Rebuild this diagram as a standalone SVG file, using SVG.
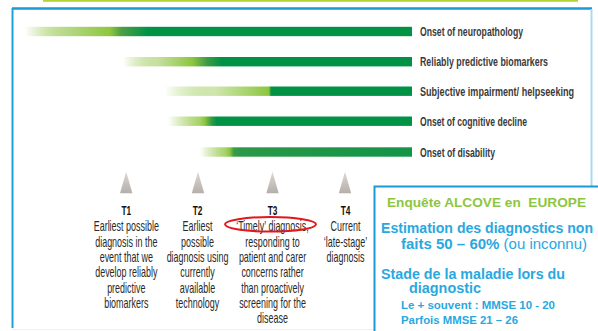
<svg xmlns="http://www.w3.org/2000/svg" width="598" height="331" viewBox="0 0 598 331">
<style>
.lbl{font-family:"Liberation Sans",Arial,sans-serif;font-weight:bold;font-size:13px;fill:#3a3a3a}
.col{font-family:"Liberation Sans",Arial,sans-serif;font-size:14px;fill:#2a2a2a;text-anchor:middle}
.th{font-weight:bold;fill:#111;font-size:13px}
.bx{font-family:"Liberation Sans",Arial,sans-serif;font-weight:bold;fill:#29a8df;white-space:pre}
.tri{fill:url(#gTri)}
</style>
<defs>
<linearGradient id="gTri" x1="0" y1="0" x2="0" y2="1">
<stop offset="0" stop-color="#dcd8d4"/><stop offset="1" stop-color="#b5afab"/>
</linearGradient>
<linearGradient id="g1" gradientUnits="userSpaceOnUse" x1="25" y1="0" x2="412" y2="0">
<stop offset="0" stop-color="#8dc63f" stop-opacity="0"/>
<stop offset="0.1" stop-color="#b9d98a"/>
<stop offset="0.22" stop-color="#8dc63f"/>
<stop offset="0.25" stop-color="#4a9e45"/>
<stop offset="0.32" stop-color="#009245"/>
<stop offset="1" stop-color="#009245"/>
</linearGradient>
<linearGradient id="g2" gradientUnits="userSpaceOnUse" x1="123" y1="0" x2="412" y2="0">
<stop offset="0" stop-color="#8dc63f" stop-opacity="0"/>
<stop offset="0.12" stop-color="#c6e0a0"/>
<stop offset="0.24" stop-color="#8dc63f"/>
<stop offset="0.29" stop-color="#3e9b45"/>
<stop offset="0.34" stop-color="#009245"/>
<stop offset="1" stop-color="#009245"/>
</linearGradient>
<linearGradient id="g3" gradientUnits="userSpaceOnUse" x1="165" y1="0" x2="412" y2="0">
<stop offset="0" stop-color="#8dc63f" stop-opacity="0"/>
<stop offset="0.2" stop-color="#d0e6b0"/>
<stop offset="0.42" stop-color="#8dc63f"/>
<stop offset="0.43" stop-color="#009245"/>
<stop offset="1" stop-color="#009245"/>
</linearGradient>
<linearGradient id="g4" gradientUnits="userSpaceOnUse" x1="168" y1="0" x2="412" y2="0">
<stop offset="0" stop-color="#8dc63f" stop-opacity="0"/>
<stop offset="0.13" stop-color="#a8d26a"/>
<stop offset="0.15" stop-color="#8dc63f"/>
<stop offset="0.18" stop-color="#2f9a45"/>
<stop offset="0.2" stop-color="#009245"/>
<stop offset="1" stop-color="#009245"/>
</linearGradient>
<linearGradient id="g5" gradientUnits="userSpaceOnUse" x1="200" y1="0" x2="412" y2="0">
<stop offset="0" stop-color="#8dc63f" stop-opacity="0"/>
<stop offset="0.12" stop-color="#a8d26a"/>
<stop offset="0.14" stop-color="#8dc63f"/>
<stop offset="0.16" stop-color="#3a9c47"/>
<stop offset="0.2" stop-color="#2a9847"/>
<stop offset="1" stop-color="#129447"/>
</linearGradient>
</defs>
<rect width="598" height="331" fill="#ffffff"/>
<g id="frame">
<line x1="43" y1="0.8" x2="578" y2="0.8" stroke="#b2d235" stroke-width="2"/>
<line x1="12" y1="8.5" x2="592" y2="8.5" stroke="#1a9ad6" stroke-width="2.5"/>
<line x1="12.5" y1="8" x2="12.5" y2="328" stroke="#1ca3da" stroke-width="2"/>
<line x1="591.5" y1="9" x2="591.5" y2="187" stroke="#a9dbed" stroke-width="2"/>
<line x1="12" y1="329.5" x2="374" y2="329.5" stroke="#e6f3f9" stroke-width="1"/>
</g>
<g id="bar-neuropathology">
<rect x="25" y="26.8" width="387" height="9.4" fill="url(#g1)"/>
<text class="lbl" x="420" y="36" textLength="103" lengthAdjust="spacingAndGlyphs">Onset of neuropathology</text>
</g>
<g id="bar-biomarkers">
<rect x="123" y="57" width="289" height="9.4" fill="url(#g2)"/>
<text class="lbl" x="420" y="66" textLength="128" lengthAdjust="spacingAndGlyphs">Reliably predictive biomarkers</text>
</g>
<g id="bar-subjective">
<rect x="165" y="86.5" width="247" height="9.4" fill="url(#g3)"/>
<text class="lbl" x="420" y="95.5" textLength="154" lengthAdjust="spacingAndGlyphs">Subjective impairment/ helpseeking</text>
</g>
<g id="bar-cognitive">
<rect x="168" y="116.5" width="244" height="9.4" fill="url(#g4)"/>
<text class="lbl" x="420" y="125.5" textLength="107" lengthAdjust="spacingAndGlyphs">Onset of cognitive decline</text>
</g>
<g id="bar-disability">
<rect x="200" y="147.3" width="212" height="9.4" fill="url(#g5)"/>
<text class="lbl" x="420" y="156.5" textLength="75" lengthAdjust="spacingAndGlyphs">Onset of disability</text>
</g>
<g id="connectors">
<polygon class="tri" points="126.2,171.7 120,193.3 132.4,193.3"/>
<polygon class="tri" points="198,171.7 191.8,193.3 204.2,193.3"/>
<polygon class="tri" points="272.5,171.7 266.3,193.3 278.7,193.3"/>
<polygon class="tri" points="345,171.7 338.8,193.3 351.2,193.3"/>
</g>
<g id="T1" transform="translate(126.3,0) scale(0.64,1)">
<text class="col th" x="0" y="215.5">T1</text>
<text class="col" x="0" y="231.5">Earliest possible</text>
<text class="col" x="0" y="246.8">diagnosis in the</text>
<text class="col" x="0" y="262.1">event that we</text>
<text class="col" x="0" y="277.4">develop reliably</text>
<text class="col" x="0" y="292.7">predictive</text>
<text class="col" x="0" y="308">biomarkers</text>
</g>
<g id="T2" transform="translate(197.5,0) scale(0.64,1)">
<text class="col th" x="0" y="215.5">T2</text>
<text class="col" x="0" y="231.5">Earliest</text>
<text class="col" x="0" y="246.8">possible</text>
<text class="col" x="0" y="262.1">diagnosis using</text>
<text class="col" x="0" y="277.4">currently</text>
<text class="col" x="0" y="292.7">available</text>
<text class="col" x="0" y="308">technology</text>
</g>
<g id="T3">
<g transform="translate(272.5,0) scale(0.64,1)">
<text class="col th" x="0" y="215.5">T3</text>
<text class="col" x="0" y="231.5">‘Timely’ diagnosis,</text>
<text class="col" x="0" y="246.8">responding to</text>
<text class="col" x="0" y="262.1">patient and carer</text>
<text class="col" x="0" y="277.4">concerns rather</text>
<text class="col" x="0" y="292.7">than proactively</text>
<text class="col" x="0" y="308">screening for the</text>
<text class="col" x="0" y="323.3">disease</text>
</g>
<ellipse cx="270.5" cy="224.3" rx="45.5" ry="7.3" fill="none" stroke="#e3161b" stroke-width="2"/>
</g>
<g id="T4" transform="translate(345.5,0) scale(0.64,1)">
<text class="col th" x="0" y="215.5">T4</text>
<text class="col" x="0" y="231.5">Current</text>
<text class="col" x="0" y="246.8">‘late-stage’</text>
<text class="col" x="0" y="262.1">diagnosis</text>
</g>
<g id="alcove-box">
<rect x="374.5" y="186.5" width="240" height="160" fill="#ffffff" stroke="#1a9ad6" stroke-width="2"/>
<text class="bx" x="387" y="207" font-size="12.5" style="fill:#8dc63f" textLength="199" lengthAdjust="spacingAndGlyphs">Enquête ALCOVE en  EUROPE</text>
<text class="bx" x="381" y="233" font-size="14" textLength="212" lengthAdjust="spacingAndGlyphs">Estimation des diagnostics non</text>
<text class="bx" x="401" y="249" font-size="14" textLength="186" lengthAdjust="spacingAndGlyphs">faits 50 – 60% <tspan font-weight="normal">(ou inconnu)</tspan></text>
<text class="bx" x="381" y="279" font-size="14" textLength="184" lengthAdjust="spacingAndGlyphs">Stade de la maladie lors du</text>
<text class="bx" x="409" y="293" font-size="14" textLength="72" lengthAdjust="spacingAndGlyphs">diagnostic</text>
<text class="bx" x="401" y="309" font-size="11" textLength="154" lengthAdjust="spacingAndGlyphs">Le + souvent : MMSE 10 - 20</text>
<text class="bx" x="401" y="323.5" font-size="11" textLength="117" lengthAdjust="spacingAndGlyphs">Parfois MMSE 21 – 26</text>
</g>
</svg>
